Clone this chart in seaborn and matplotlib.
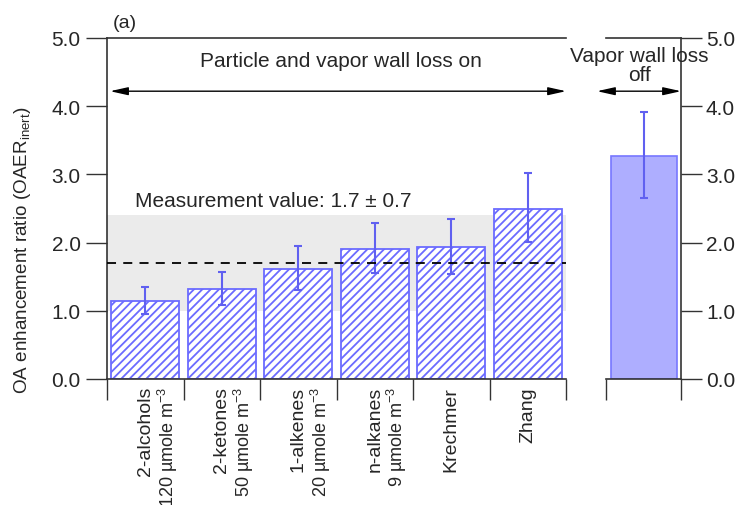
import numpy as np
import pandas as pd
import matplotlib
matplotlib.use('Agg')
import matplotlib.pyplot as plt
import seaborn as sns

sns.set_theme(style='ticks')
plt.rcParams['font.family'] = ['Liberation Sans', 'DejaVu Sans']
plt.rcParams['hatch.linewidth'] = 1.3

# data
labels = ['2-alcohols', '2-ketones', '1-alkenes', 'n-alkanes', 'Krechmer', 'Zhang']
sublabels = ['120 µmole m$^{\\mathregular{-3}}$', '50 µmole m$^{\\mathregular{-3}}$',
             '20 µmole m$^{\\mathregular{-3}}$', '9 µmole m$^{\\mathregular{-3}}$', '', '']
oaer = [1.14, 1.315, 1.62, 1.91, 1.94, 2.50]
err_lo = [0.96, 1.085, 1.30, 1.55, 1.54, 2.01]
err_hi = [1.35, 1.57, 1.95, 2.29, 2.35, 3.02]
off_label = ['Vapor wall loss off']
off_val = [3.27]
off_lo = [2.65]
off_hi = [3.92]
meas_mean, meas_unc = 1.7, 0.7

blue_edge = '#6b6bff'
blue_err = '#6060f0'

df = pd.DataFrame({'case': labels, 'oaer': oaer})
df_off = pd.DataFrame({'case': off_label, 'oaer': off_val})

fig = plt.figure(figsize=(7.37, 5.06), dpi=100)
W, H = 737, 506
ax1 = fig.add_axes([107 / W, 1 - 380 / H, 459 / W, 341 / H])
ax2 = fig.add_axes([606 / W, 1 - 380 / H, 75 / W, 341 / H])

# left panel
ax1.axhspan(meas_mean - meas_unc, meas_mean + meas_unc, facecolor='#ebebeb', zorder=0, lw=0)
sns.barplot(data=df, x='case', y='oaer', ax=ax1, width=0.89, color='white',
            edgecolor=blue_edge, linewidth=1.3, hatch='////', zorder=2)
for bar in ax1.containers[0]:
    bar.set_facecolor('white')
x = np.arange(len(labels))
y = np.array(oaer)
ax1.errorbar(x, y, yerr=[y - np.array(err_lo), np.array(err_hi) - y], fmt='none',
             ecolor=blue_err, elinewidth=1.5, capsize=3, capthick=1.5, zorder=4)
ax1.axhline(meas_mean, color='black', ls=(0, (5, 4)), lw=1.3, zorder=5)
ax1.text(-0.135, 2.61, f'Measurement value: {meas_mean} ± {meas_unc}', fontsize=15,
         va='center', ha='left')

ax1.set_xlim(-0.5, len(labels) - 0.5)
ax1.set_ylim(0, 5)
ax1.set_yticks(np.arange(0, 5.1, 1.0))
ax1.set_yticklabels([f'{v:.1f}' for v in np.arange(0, 5.1, 1.0)], fontsize=15)
ax1.set_xticks(np.arange(-0.5, len(labels), 1.0))
ax1.set_xticklabels([])
ax1.tick_params(axis='y', direction='out', length=15, width=1, pad=4, color='#333333')
ax1.tick_params(axis='x', direction='out', length=15, width=1, color='#333333')
ax1.set_xlabel('')
ax1.set_ylabel('')
for s in ['left', 'top', 'bottom']:
    ax1.spines[s].set_color('#333333')
    ax1.spines[s].set_linewidth(1.2)
ax1.spines['right'].set_visible(False)

# category labels under the bars
for i, (lab, sub) in enumerate(zip(labels, sublabels)):
    ax1.annotate(lab, xy=(i, 0), xycoords='data', xytext=(0, -5), textcoords='offset points',
                 rotation=90, ha='center', va='top', fontsize=14)
    if sub:
        ax1.annotate(sub, xy=(i, 0), xycoords='data', xytext=(16, -5), textcoords='offset points',
                     rotation=90, ha='center', va='top', fontsize=13)

ax1.text(0.51, 0.933, 'Particle and vapor wall loss on', transform=ax1.transAxes,
         ha='center', va='center', fontsize=15)
ax1.annotate('', xy=(-0.46, 4.22), xytext=(5.5, 4.22),
             arrowprops=dict(arrowstyle='<|-|>,head_length=0.9,head_width=0.2',
                             color='black', lw=1.0, shrinkA=0, shrinkB=0),
             annotation_clip=False)

# right panel
ax2.bar(df_off['case'], df_off['oaer'], width=0.88, color='#aeaeff',
        edgecolor='#7777ff', linewidth=1.2, zorder=2)
ax2.errorbar([0], off_val, yerr=[[off_val[0] - off_lo[0]], [off_hi[0] - off_val[0]]], fmt='none',
             ecolor=blue_err, elinewidth=1.5, capsize=3, capthick=1.5, zorder=4)
ax2.set_xlim(-0.5, 0.5)
ax2.set_ylim(0, 5)
ax2.yaxis.tick_right()
ax2.set_yticks(np.arange(0, 5.1, 1.0))
ax2.set_yticklabels([f'{v:.1f}' for v in np.arange(0, 5.1, 1.0)], fontsize=15)
ax2.set_xticks([-0.5, 0.5])
ax2.set_xticklabels([])
ax2.tick_params(axis='y', direction='out', length=15, width=1, pad=3, color='#333333')
ax2.tick_params(axis='x', direction='out', length=15, width=1, color='#333333')
ax2.spines['left'].set_visible(False)
for s in ['right', 'top', 'bottom']:
    ax2.spines[s].set_color('#333333')
    ax2.spines[s].set_linewidth(1.2)
ax2.text(0.45, 0.92, 'Vapor wall loss\noff', transform=ax2.transAxes,
         ha='center', va='center', fontsize=15, linespacing=1.0)
ax2.annotate('', xy=(-0.62, 4.22), xytext=(0.5, 4.22),
             arrowprops=dict(arrowstyle='<|-|>,head_length=0.9,head_width=0.2',
                             color='black', lw=1.0, shrinkA=0, shrinkB=0),
             annotation_clip=False)

fig.text(113 / W, 1 - 24 / H, '(a)', fontsize=14, ha='left', va='center')
fig.text(23 / W, 1 - 250 / H, 'OA enhancement ratio (OAER$_{\\mathregular{inert}}$)',
         rotation=90, ha='center', va='center', fontsize=13.6)

fig.savefig('out.png', dpi=100)
